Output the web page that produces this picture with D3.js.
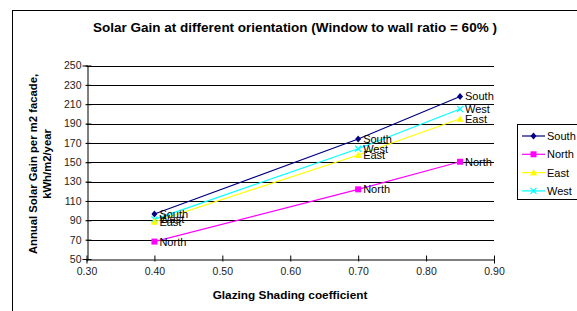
<!DOCTYPE html>
<html>
<head>
<meta charset="utf-8">
<script src="https://cdn.jsdelivr.net/npm/d3@7"></script>
<style>
  body { margin: 0; background: #fff; }
  text { font-family: "Liberation Sans", Arial, sans-serif; }
</style>
</head>
<body>
<script>
// chart data
const shading = [0.40, 0.70, 0.85]
const south = [96.5, 174, 218]
const north = [68, 122, 150.5]
const east = [88.5, 157.5, 195]
const west = [91, 164, 205]

const seriesNames = ["South", "North", "East", "West"]
const seriesValues = [south, north, east, west]
const colors = ["#000080", "#ff00ff", "#ffff00", "#00ffff"]
const shapes = ["diamond", "square", "triangle", "x"]

const xTicks = [0.30, 0.40, 0.50, 0.60, 0.70, 0.80, 0.90]
const yTicks = [50, 70, 90, 110, 130, 150, 170, 190, 210, 230, 250]

const W = 577, H = 311
const svg = d3.select("body").append("svg")
    .attr("width", W).attr("height", H)

// outer chart frame (only top and left visible)
svg.append("rect")
    .attr("x", 12.5).attr("y", 10.5)
    .attr("width", 600).attr("height", 400)
    .attr("fill", "#fff").attr("stroke", "#000").attr("stroke-width", 1)

const x = d3.scaleLinear().domain([0.3, 0.9]).range([86.5, 494])
const y = d3.scaleLinear().domain([50, 250]).range([259, 65.5])

// grid lines
svg.append("g").selectAll("line")
    .data(yTicks.slice(1))
    .enter().append("line")
    .attr("x1", x(0.3)).attr("x2", x(0.9))
    .attr("y1", d => Math.round(y(d)) + 0.5).attr("y2", d => Math.round(y(d)) + 0.5)
    .attr("stroke", "#000").attr("stroke-width", 1)

// axes
const yAxis = svg.append("g")
    .attr("transform", `translate(${Math.round(x(0.3)) + 0.5},0)`)
    .call(d3.axisLeft(y).tickValues(yTicks).tickFormat(d3.format("d")).tickSizeOuter(0).tickSize(5))
const xAxis = svg.append("g")
    .attr("transform", `translate(0,${Math.round(y(50)) + 0.5})`)
    .call(d3.axisBottom(x).tickValues(xTicks).tickFormat(d3.format(".2f")).tickSizeOuter(0).tickSize(4))

for (const ax of [yAxis, xAxis]) {
    ax.select(".domain").attr("stroke", "#000")
    ax.selectAll(".tick line").attr("stroke", "#000")
    ax.selectAll("text").attr("font-size", 10.5).attr("fill", "#222")
        .attr("font-family", "Liberation Sans, Arial, sans-serif")
}
yAxis.selectAll(".tick line").attr("x2", 4).attr("x1", -2)
yAxis.selectAll("text").attr("x", -6)
xAxis.selectAll(".tick line").attr("y1", -4).attr("y2", 2)
xAxis.selectAll("text").attr("y", 8)

function marker(g, shape, color, cx, cy) {
    if (shape === "diamond") {
        g.append("path").attr("d", `M${cx},${cy - 3.5}L${cx + 3},${cy}L${cx},${cy + 3.5}L${cx - 3},${cy}Z`)
            .attr("fill", color)
    } else if (shape === "square") {
        g.append("rect").attr("x", cx - 3).attr("y", cy - 3).attr("width", 6).attr("height", 6).attr("fill", color)
    } else if (shape === "triangle") {
        g.append("path").attr("d", `M${cx},${cy - 3.5}L${cx + 3.5},${cy + 3}L${cx - 3.5},${cy + 3}Z`)
            .attr("fill", color)
    } else {
        g.append("path").attr("d", `M${cx - 3},${cy - 3}L${cx + 3},${cy + 3}M${cx - 3},${cy + 3}L${cx + 3},${cy - 3}`)
            .attr("stroke", color).attr("stroke-width", 1.2)
    }
}

// series lines, markers and data labels (draw West first so South stays on top)
const order = [3, 2, 1, 0]
const line = d3.line().x((d, i) => x(shading[i])).y(d => y(d))
for (const s of order) {
    const g = svg.append("g")
    g.append("path").datum(seriesValues[s])
        .attr("d", line)
        .attr("fill", "none").attr("stroke", colors[s]).attr("stroke-width", 1.2)
    seriesValues[s].forEach((v, i) => marker(g, shapes[s], colors[s], x(shading[i]), y(v)))
}
for (const s of order) {
    seriesValues[s].forEach((v, i) => {
        svg.append("text")
            .attr("x", x(shading[i]) + 5).attr("y", y(v) + 4)
            .attr("font-size", 11).attr("fill", "#000")
            .text(seriesNames[s])
    })
}

// title
svg.append("text")
    .attr("x", 295).attr("y", 32)
    .attr("text-anchor", "middle").attr("font-size", 13.5).attr("font-weight", "bold")
    .text("Solar Gain at different orientation (Window to wall ratio = 60% )")

// y axis title
const yt = svg.append("text")
    .attr("transform", "translate(37,164) rotate(-90)")
    .attr("text-anchor", "middle").attr("font-size", 11.3).attr("font-weight", "bold")
yt.append("tspan").attr("x", 0).attr("dy", 0).text("Annual Solar Gain per m2 facade,")
yt.append("tspan").attr("x", 0).attr("dy", 14).text("kWh/m2/year")

// x axis title
svg.append("text")
    .attr("x", 290).attr("y", 299)
    .attr("text-anchor", "middle").attr("font-size", 11.8).attr("font-weight", "bold")
    .text("Glazing Shading coefficient")

// legend
const lg = svg.append("g")
lg.append("rect")
    .attr("x", 517.5).attr("y", 124.5).attr("width", 70).attr("height", 75)
    .attr("fill", "#fff").attr("stroke", "#000")
seriesNames.forEach((name, i) => {
    const ly = 136 + i * 18.3
    lg.append("line").attr("x1", 522).attr("x2", 545).attr("y1", ly).attr("y2", ly)
        .attr("stroke", colors[i]).attr("stroke-width", 1.2)
    marker(lg, shapes[i], colors[i], 533.5, ly)
    lg.append("text").attr("x", 547).attr("y", ly + 4)
        .attr("font-size", 11).text(name)
})
</script>
</body>
</html>
